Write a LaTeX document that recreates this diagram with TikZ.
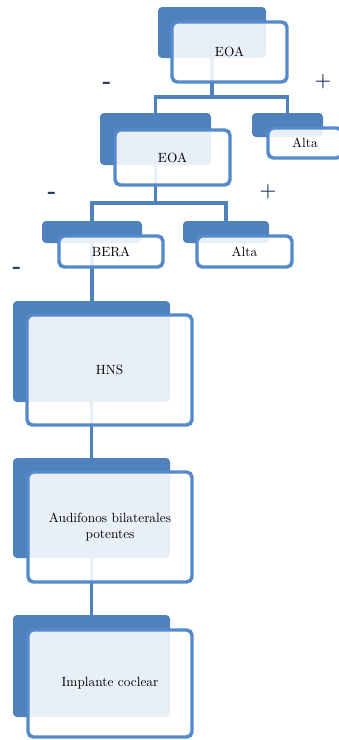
\documentclass[tikz,border=0pt]{standalone}
\usepackage{tikz}
\usetikzlibrary{calc}
\usepackage{xcolor}
\definecolor{smblue}{RGB}{79,129,189}
\definecolor{smline}{RGB}{84,138,204}
\definecolor{smnavy}{RGB}{31,56,100}

\tikzset{
  backbox/.style={rectangle, rounded corners=3pt, fill=smblue, inner sep=0pt},
  frontbox/.style={rectangle, rounded corners=4pt, draw=smline, line width=2.6pt,
    fill=white, fill opacity=0.88, text opacity=1, font=\normalsize, align=center, inner sep=0pt},
  link/.style={draw=smblue, line width=2.8pt},
  sign/.style={text=smnavy, font=\Large\bfseries},
  minus/.style={text=smnavy, font=\LARGE\bfseries}
}

\begin{document}
\begin{tikzpicture}[x=0.75pt,y=-0.75pt]
  \useasboundingbox (0,0) rectangle (339,740);

  % back shapes
  \node[backbox, minimum width=81pt, minimum height=38.25pt] (eoaA) at (212,32.5) {};
  \node[backbox, minimum width=83.25pt, minimum height=39pt] (eoaB) at (155.5,139) {};
  \node[backbox, minimum width=53.25pt, minimum height=18pt] (altaA) at (287.5,125) {};
  \node[backbox, minimum width=75pt, minimum height=16.5pt] (bera) at (92,232) {};
  \node[backbox, minimum width=64.5pt, minimum height=16.5pt] (altaB) at (226,232) {};
  \node[backbox, minimum width=117.75pt, minimum height=75.75pt] (hns) at (91.5,351.5) {};
  \node[backbox, minimum width=117.75pt, minimum height=75pt] (audif) at (91.5,508) {};
  \node[backbox, minimum width=117.75pt, minimum height=76.5pt] (impl) at (91.5,666) {};

  % connectors
  \draw[link] (eoaA.south) -- ($(eoaA.south)+(0,39)$) -| (eoaB.north);
  \draw[link] ($(eoaA.south)+(0,39)$) -| (altaA.north);
  \draw[link] (eoaB.south) -- ($(eoaB.south)+(0,38)$) -| (bera.north);
  \draw[link] ($(eoaB.south)+(0,38)$) -| (altaB.north);
  \draw[link] (bera.south) -- (bera.south |- hns.north);
  \draw[link] (hns.south) -- (audif.north);
  \draw[link] (audif.south) -- (impl.north);

  % front shapes
  \node[frontbox, minimum width=86.25pt, minimum height=45pt] (eoaAf) at (229.5,52) {EOA};
  \node[frontbox, minimum width=86.25pt, minimum height=41.25pt] (eoaBf) at (172.5,157.5) {EOA};
  \node[frontbox, minimum width=55.5pt, minimum height=22.5pt] (altaAf) at (305,143) {Alta};
  \node[frontbox, minimum width=78pt, minimum height=23.25pt] (beraf) at (111,251.5) {BERA};
  \node[frontbox, minimum width=71.25pt, minimum height=23.25pt] (altaBf) at (244.5,251.5) {Alta};
  \node[frontbox, minimum width=123.75pt, minimum height=82.5pt] (hnsf) at (109.5,370) {HNS};
  \node[frontbox, minimum width=123pt, minimum height=82.5pt] (audiff) at (110,527) {Audifonos bilaterales\\potentes};
  \node[frontbox, minimum width=123pt, minimum height=80.25pt] (implf) at (110,683.5) {Implante coclear};

  % signs
  \node[minus] (m1) at (107,85) {-};
  \node[sign] (p1) at (323,82) {+};
  \node[minus] (m2) at (52,195) {-};
  \node[sign] (p2) at (268,192) {+};
  \node[minus] (m3) at (17,270) {-};
\end{tikzpicture}
\end{document}
